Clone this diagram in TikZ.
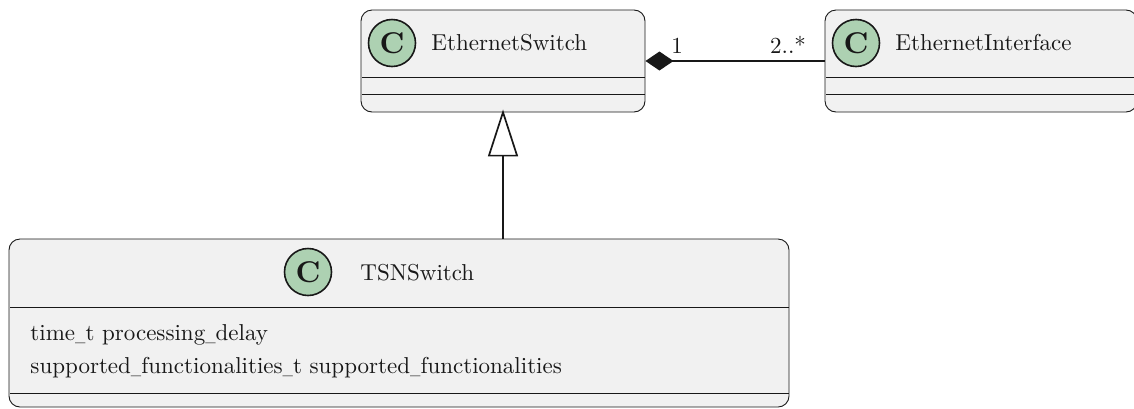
\documentclass[tikz,border=0pt]{standalone}
\usepackage{graphicx}
\usetikzlibrary{arrows.meta,calc}
\definecolor{boxfill}{HTML}{F1F1F1}
\definecolor{ink}{HTML}{181818}
\definecolor{badge}{HTML}{ADD1B2}
\newcommand{\usc}{\scalebox{0.6}[1]{\_}}
\tikzset{
  classbox/.style={draw=ink,fill=boxfill,line width=0.9pt,rounded corners=11pt,inner sep=0pt,minimum height=102pt},
  badgec/.style={circle,draw=ink,fill=badge,line width=1.6pt,minimum size=47pt,inner sep=0pt},
  badgeletter/.style={inner sep=0pt,scale=3.0,font=\bfseries,text=ink},
  title/.style={anchor=base west,inner sep=0pt,scale=2.3,text=ink},
  member/.style={anchor=base west,inner sep=0pt,scale=2.3,text=ink},
  sep/.style={draw=ink,line width=0.9pt},
  link/.style={draw=ink,line width=1.7pt},
  mult/.style={anchor=base,inner sep=0pt,scale=2.3,text=ink}
}
\begin{document}
\begin{tikzpicture}[x=1pt,y=-1pt]
\useasboundingbox (0,0) rectangle (1134,408);
% classes
\node[classbox,minimum width=284pt] (sw) at (503,61) {};
\node[classbox,minimum width=312pt] (if) at (981,61) {};
\node[classbox,minimum width=780pt,minimum height=168pt] (tsn) at (399,323) {};
% badges
\node[badgec] (c1) at (392,43) {};
\node[badgec] (c2) at (856,43) {};
\node[badgec] (c3) at (308,272) {};
\node[badgeletter] (k1) at (c1) {C};
\node[badgeletter] (k2) at (c2) {C};
\node[badgeletter] (k3) at (c3) {C};
% titles
\node[title] (t1) at (431,50.5) {EthernetSwitch};
\node[title] (t2) at (895,50.5) {EthernetInterface};
\node[title] (t3) at (360,280.5) {TSNSwitch};
% separators
\draw[sep] (sw.west |- 0,77) ++(1.5,0) coordinate (a1) -- (a1 -| sw.east);
\draw[sep] (sw.west |- 0,94.5) ++(1.5,0) coordinate (a2) -- (a2 -| sw.east);
\draw[sep] (if.west |- 0,77) ++(1.5,0) coordinate (b1) -- (b1 -| if.east);
\draw[sep] (if.west |- 0,94.5) ++(1.5,0) coordinate (b2) -- (b2 -| if.east);
\draw[sep] (tsn.west |- 0,307) ++(1.5,0) coordinate (d1) -- (d1 -| tsn.east);
\draw[sep] (tsn.west |- 0,393) ++(1.5,0) coordinate (d2) -- (d2 -| tsn.east);
% members
\node[member] (m1) at (30,340) {time\usc t processing\usc delay};
\node[member] (m2) at (30,373.5) {supported\usc functionalities\usc t supported\usc functionalities};
% connectors
\draw[link,{Diamond[length=28pt,width=19pt,fill=ink,line width=0pt]}-] (sw.east) -- (if.west);
\draw[link,shorten >=-3pt,-{Triangle[open,length=47pt,width=30pt,fill=white]}] (tsn.north -| sw.south) -- (sw.south);
% multiplicities
\node[mult] (l1) at (677,53) {1};
\node[mult] (l2) at (788,53) {2..*};
\end{tikzpicture}
\end{document}
